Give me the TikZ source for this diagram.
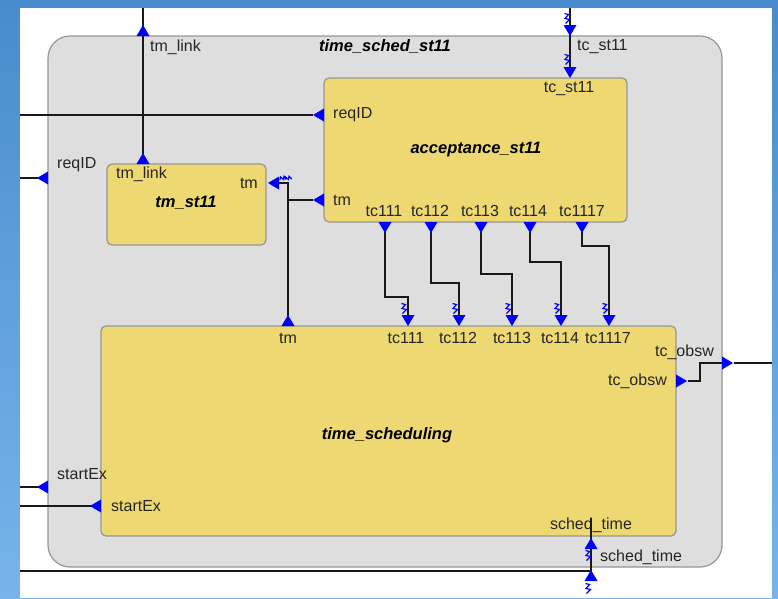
\documentclass[tikz,border=0pt]{standalone}
\usepackage{fontspec}
\setmainfont{Liberation Sans}
\definecolor{skyA}{RGB}{72,140,205}
\definecolor{skyB}{RGB}{120,180,235}
\definecolor{grayfill}{RGB}{222,222,222}
\definecolor{grayline}{RGB}{150,150,150}
\definecolor{yellowbox}{RGB}{237,216,114}
\definecolor{portblue}{RGB}{0,0,255}
\begin{document}
\begin{tikzpicture}[x=1pt,y=-1pt,
  lbl/.style={font=\fontsize{16}{18}\selectfont, text=black!85, inner sep=0pt},
  ttl/.style={font=\fontsize{16.5}{19}\selectfont\bfseries\itshape, inner sep=0pt},
  wire/.style={line width=1.3pt, black!90},
  container/.style={draw=grayline, line width=1.2pt, fill=grayfill, rounded corners=22pt, inner sep=0pt},
  block/.style={draw=grayline, line width=1.2pt, fill=yellowbox, rounded corners=5pt, inner sep=0pt},
  tri/.pic={\fill[portblue] (-6.5,0) -- (6.5,0) -- (0,-11) -- cycle;},
  sig/.pic={\draw[portblue, line width=1.2pt] (-2.5,-4.5) -- (1.5,-3.5) -- (-2,0.5) -- (2.5,1.5) -- (-1.5,5.5);}
]
% backdrop and white sheet
\useasboundingbox (0,0) rectangle (778,598);
\shade[top color=skyA, bottom color=skyB] (0,0) rectangle (778,598);
\fill[white] (20,8) rectangle (772,598);

% blocks
\node[container, minimum width=674pt, minimum height=531pt] (outer) at (385,301.5) {};
\node[block, minimum width=303pt, minimum height=144pt] (acc) at (475.5,150) {};
\node[block, minimum width=159pt, minimum height=81pt] (tmst) at (186.5,204.5) {};
\node[block, minimum width=575pt, minimum height=210pt] (ts) at (388.5,431) {};

% block titles
\node[ttl] (tOuter) at (385,47) {time\_sched\_st11};
\node[ttl] (tAcc) at (476,150) {acceptance\_st11};
\node[ttl] (tTm) at (186,203) {tm\_st11};
\node[ttl] (tTs) at (387,435) {time\_scheduling};

% port labels
\node[lbl, anchor=west] (lTmLinkO) at (150,47) {tm\_link};
\node[lbl, anchor=west] (lTcO) at (577,47) {tc\_st11};
\node[lbl] (lTcI) at (569,89) {tc\_st11};
\node[lbl, anchor=west] (lReqI) at (333,115) {reqID};
\node[lbl, anchor=west] (lReqO) at (57,165) {reqID};
\node[lbl, anchor=west] (lTmLinkI) at (116,174) {tm\_link};
\node[lbl, anchor=east] (lTmSt) at (258,183) {tm};
\node[lbl, anchor=west] (lTmAcc) at (333,200) {tm};
\node[lbl] (lA1) at (384,211) {tc111};
\node[lbl] (lA2) at (430,211) {tc112};
\node[lbl] (lA3) at (480,211) {tc113};
\node[lbl] (lA4) at (528,211) {tc114};
\node[lbl] (lA5) at (582,211) {tc1117};
\node[lbl] (lTmTs) at (288,338) {tm};
\node[lbl] (lS1) at (406,338) {tc111};
\node[lbl] (lS2) at (458,338) {tc112};
\node[lbl] (lS3) at (512,338) {tc113};
\node[lbl] (lS4) at (560,338) {tc114};
\node[lbl] (lS5) at (608,338) {tc1117};
\node[lbl, anchor=east] (lObswO) at (714,352) {tc\_obsw};
\node[lbl, anchor=east] (lObswI) at (667,381) {tc\_obsw};
\node[lbl, anchor=west] (lStartO) at (57,474) {startEx};
\node[lbl, anchor=west] (lStartI) at (111,506) {startEx};
\node[lbl] (lSchedI) at (591,525) {sched\_time};
\node[lbl, anchor=west] (lSchedO) at (600,557) {sched\_time};

% wire end points
\coordinate (edgeTop1) at (143,8);
\coordinate (tmLinkIn) at (143,154);
\coordinate (edgeL1) at (20,178);
\coordinate (reqO) at (40,178);
\coordinate (edgeL2) at (20,115);
\coordinate (reqIn) at (313,115);
\coordinate (tmStPort) at (279,183);
\coordinate (tmJoin) at (288,183);
\coordinate (tmBranch) at (288,200);
\coordinate (tmAccPort) at (313,200);
\coordinate (tmTsPort) at (288,316);
\coordinate (edgeTop2) at (570,8);
\coordinate (tcAccPort) at (570,67);
\coordinate (a1) at (385,232);
\coordinate (a2) at (431,232);
\coordinate (a3) at (481,232);
\coordinate (a4) at (530,232);
\coordinate (a5) at (582,232);
\coordinate (s1) at (408,315);
\coordinate (s2) at (459,315);
\coordinate (s3) at (512,315);
\coordinate (s4) at (561,315);
\coordinate (s5) at (609,315);
\coordinate (obswIn) at (688,381);
\coordinate (obswOut) at (722,363);
\coordinate (obswTip) at (734,363);
\coordinate (edgeR) at (772,363);
\coordinate (edgeL3) at (20,487);
\coordinate (startO) at (40,487);
\coordinate (edgeL4) at (20,506);
\coordinate (startIn) at (92,506);
\coordinate (edgeL5) at (20,571);
\coordinate (schedCorner) at (591,571);
\coordinate (schedTop) at (591,518);

% connectors
\draw[wire] (edgeTop1) -- (tmLinkIn);
\draw[wire] (edgeL1) -- (reqO);
\draw[wire] (edgeL2) -- (reqIn);
\draw[wire] (tmStPort) -- (tmJoin) -- (tmTsPort);
\draw[wire] (tmBranch) -- (tmAccPort);
\draw[wire] (edgeTop2) -- (tcAccPort);
\draw[wire] (a1) -- (385,297) -- (408,297) -- (s1);
\draw[wire] (a2) -- (431,283) -- (459,283) -- (s2);
\draw[wire] (a3) -- (481,274) -- (512,274) -- (s3);
\draw[wire] (a4) -- (530,262) -- (561,262) -- (s4);
\draw[wire] (a5) -- (582,246) -- (609,246) -- (s5);
\draw[wire] (obswIn) -- (700,381) -- (700,363) -- (obswOut);
\draw[wire] (obswTip) -- (edgeR);
\draw[wire] (edgeL3) -- (startO);
\draw[wire] (edgeL4) -- (startIn);
\draw[wire] (edgeL5) -- (schedCorner) -- (schedTop);

% port markers
\pic at (143,36) {tri};
\pic at (143,164) {tri};
\pic[rotate=90] at (48,178) {tri};
\pic[rotate=90] at (324,115) {tri};
\pic[rotate=90] at (279,183) {tri};
\pic[rotate=90] at (324,200) {tri};
\pic at (288,326) {tri};
\pic[rotate=180] at (570,25) {tri};
\pic[rotate=180] at (570,67) {tri};
\foreach \px in {385,431,481,530,582} {\pic[rotate=180] at (\px,222) {tri};}
\foreach \px in {408,459,512,561,609} {\pic[rotate=180] at (\px,315) {tri};}
\pic[rotate=-90] at (676,381) {tri};
\pic[rotate=-90] at (722,363) {tri};
\pic[rotate=90] at (48,487) {tri};
\pic[rotate=90] at (101,506) {tri};
\pic at (591,549) {tri};
\pic at (591,581) {tri};

% signal marks on the event ports
\pic at (567,18) {sig};
\pic at (567,59) {sig};
\foreach \px in {404,455,508,557,605} {\pic at (\px,308) {sig};}
\pic at (588,555) {sig};
\pic at (588,588) {sig};
\pic[rotate=90, scale=0.7] at (283,178) {sig};
\pic[rotate=90, scale=0.7] at (288,178) {sig};
\end{tikzpicture}
\end{document}
